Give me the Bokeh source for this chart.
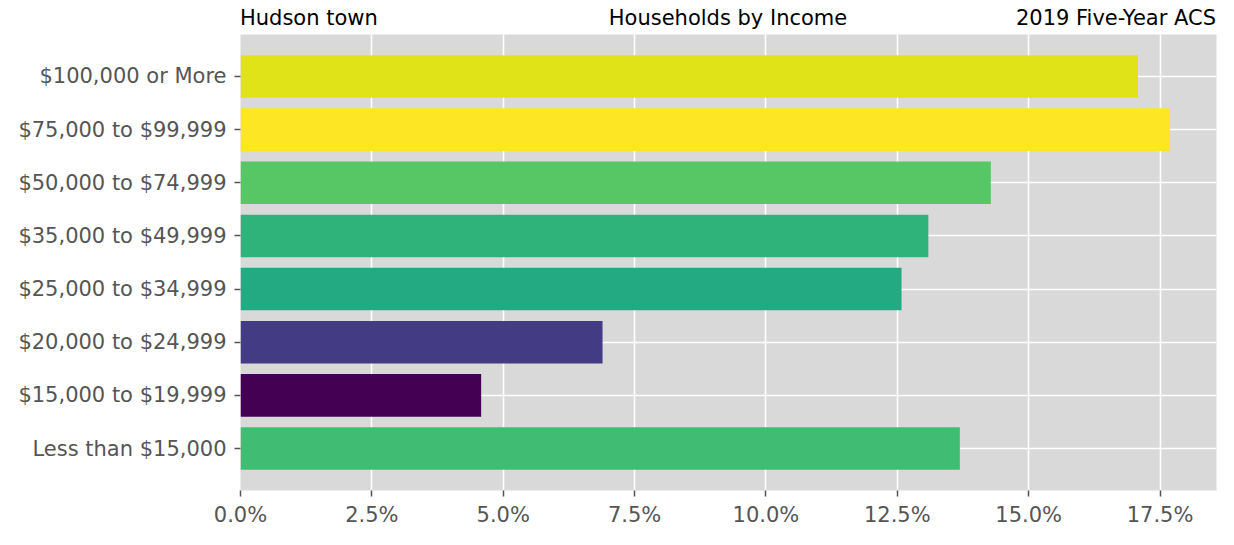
from bokeh.plotting import figure
from bokeh.layouts import column
from bokeh.models import Range1d, FixedTicker, PrintfTickFormatter, ColumnDataSource, Div
from bokeh.palettes import Viridis256
from bokeh.embed import file_html
from bokeh.resources import INLINE

# Data (bottom to top)
categories = ["Less than $15,000", "$15,000 to $19,999", "$20,000 to $24,999",
              "$25,000 to $34,999", "$35,000 to $49,999", "$50,000 to $74,999",
              "$75,000 to $99,999", "$100,000 or More"]
shares = [13.69, 4.58, 6.89, 12.58, 13.09, 14.28, 17.69, 17.08]
x_ticks = [0, 2.5, 5, 7.5, 10, 12.5, 15, 17.5]
title_texts = ["Hudson town", "Households by Income", "2019 Five-Year ACS"]

FONT = "DejaVu Sans"
FS = "21px"
GREY = "#555555"
W = 1218
LEFT = 240
RIGHT = 2
HEAD_H = 30
MAIN_H = 529 - HEAD_H

vmin, vmax = min(shares), max(shares)
colors = [Viridis256[int(round((v - vmin) / (vmax - vmin) * 255))] for v in shares]
pos = list(range(len(categories)))

src = ColumnDataSource(dict(y=pos, right=shares, color=colors, cat=categories))

xmax = vmax * 1.05
n = len(categories)
pad = 0.05 * (n - 1 + 0.8)
xr = Range1d(0, xmax)

# header with the three titles (HTML text)
fw = W - LEFT - RIGHT
span = "position:absolute;top:8px;line-height:21px;white-space:nowrap;"
html = (f'<div style="position:relative;width:{W}px;height:{HEAD_H}px;'
        f'font-family:\'{FONT}\';font-size:{FS};color:black;">'
        f'<span style="{span}left:{LEFT}px;">{title_texts[0]}</span>'
        f'<span style="{span}left:{LEFT + fw / 2}px;transform:translateX(-50%);">{title_texts[1]}</span>'
        f'<span style="{span}right:{RIGHT}px;">{title_texts[2]}</span>'
        f'</div>')
head = Div(text=html, width=W, height=HEAD_H, styles={"margin": "0", "padding": "0"})

p = figure(width=W, height=MAIN_H, output_backend="svg", toolbar_location=None, title=None,
           x_range=xr, y_range=Range1d(-0.4 - pad, n - 1 + 0.4 + pad),
           min_border_left=LEFT, min_border_right=RIGHT, min_border_top=4, min_border_bottom=34)

p.hbar(y="y", right="right", left=0, height=0.8, fill_color="color", line_color=None, source=src)

p.background_fill_color = "#d9d9d9"
p.border_fill_color = "white"
p.outline_line_color = None

p.xgrid.grid_line_color = "white"
p.xgrid.grid_line_width = 1.6
p.ygrid.grid_line_color = "white"
p.ygrid.grid_line_width = 1.6

p.xaxis.ticker = FixedTicker(ticks=x_ticks)
p.xaxis.formatter = PrintfTickFormatter(format="%.1f%%")
p.yaxis.ticker = FixedTicker(ticks=pos)
p.yaxis.major_label_overrides = {i: c for i, c in zip(pos, categories)}

for ax in (p.xaxis, p.yaxis):
    ax.axis_line_color = None
    ax.major_tick_line_color = GREY
    ax.major_tick_line_width = 1.5
    ax.major_tick_out = 6
    ax.major_tick_in = 0
    ax.minor_tick_line_color = None
    ax.major_label_text_font = FONT
    ax.major_label_text_font_size = FS
    ax.major_label_text_color = GREY
    ax.major_label_standoff = 6
p.yaxis.major_label_standoff = 8

layout = column(head, p, spacing=0)
open("out.html", "w").write(file_html(layout, INLINE))
